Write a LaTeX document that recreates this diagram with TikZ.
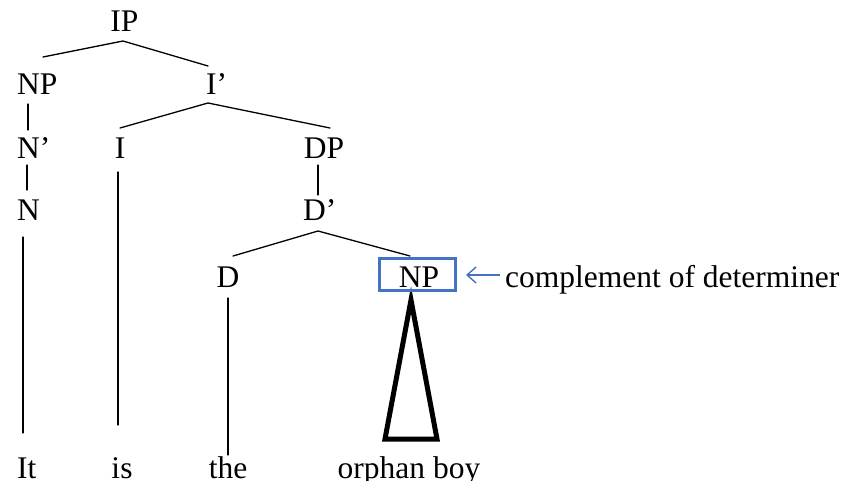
\documentclass[tikz,border=0pt]{standalone}
\usepackage{fontspec}
\setmainfont{Liberation Serif}
\usetikzlibrary{arrows.meta}
\definecolor{boxblue}{RGB}{68,114,196}
\begin{document}
\begin{tikzpicture}[x=1pt,y=-1pt,
  lbl/.style={anchor=base,inner sep=0pt,font=\fontsize{31.5}{38}\selectfont},
  branch/.style={line width=1.3pt,line cap=round},
  tri/.style={line width=5pt,line join=miter}]
\useasboundingbox (0,0) rectangle (850,481);

% category labels
\node[lbl] (IP)  at (124.5,32) {IP};
\node[lbl,anchor=base west] (NP1) at (17,95)  {NP};
\node[lbl,anchor=base west] (Ib)  at (206,95) {I'};
\node[lbl,anchor=base west] (Nb)  at (17,159) {N'};
\node[lbl] (I)   at (120,159) {I};
\node[lbl] (DP)  at (324,159) {DP};
\node[lbl,anchor=base west] (N)   at (17,220)  {N};
\node[lbl,anchor=base west] (Db)  at (303,220) {D'};
\node[lbl] (D)   at (228,287) {D};
\node[lbl] (NP2) at (419,287) {NP};

% words
\node[lbl,anchor=base west] (w1) at (17,478) {It};
\node[lbl] (w2) at (122,478) {is};
\node[lbl] (w3) at (228,478) {the};
\node[lbl] (w4) at (409,478) {orphan boy};

% branch joints
\coordinate (ipA) at (123,41);
\coordinate (ipL) at (43,57);
\coordinate (ipR) at (208,66);
\coordinate (ibA) at (208,103);
\coordinate (ibL) at (120,128);
\coordinate (ibR) at (330,128);
\coordinate (dbA) at (318,231);
\coordinate (dbL) at (233,256);
\coordinate (dbR) at (410,256);

\draw[branch] (ipL) -- (ipA) -- (ipR);
\draw[branch] (ibL) -- (ibA) -- (ibR);
\draw[branch] (dbL) -- (dbA) -- (dbR);
\draw[branch] (28,104) -- (28,130);
\draw[branch] (27,165) -- (27,190);
\draw[branch] (318,165) -- (318,195);
\draw[branch] (23,237) -- (23,433);
\draw[branch] (118,172) -- (118,425);
\draw[branch] (228,298) -- (228,455);

% triangle for the unanalysed NP
\draw[tri] (411,300) -- (437,439) -- (385,439) -- cycle;

% highlighted complement
\draw[boxblue,line width=3pt] (379,258) rectangle (455,290);
\node[lbl,anchor=base west] (note) at (505,287) {complement of determiner};
\draw[boxblue,line width=1.4pt,-{Straight Barb[length=9pt,width=16pt]}] (500,275) -- (466,275);
\end{tikzpicture}
\end{document}
